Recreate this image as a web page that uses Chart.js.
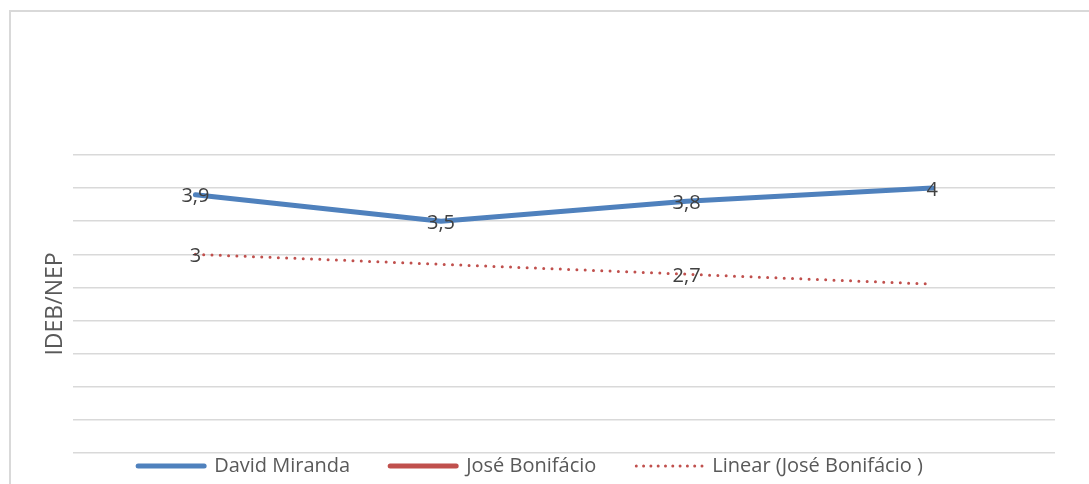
<!DOCTYPE html>
<html>
<head>
<meta charset="utf-8">
<script src="https://cdn.jsdelivr.net/npm/chart.js@4"></script>
<style>
    body { margin: 0; background: #fff; }
    #frame { position: absolute; left: 9px; top: 10px; width: 1200px; height: 600px; border: 2px solid #d9d9d9; box-sizing: border-box; }
    #wrap { position: absolute; left: 0; top: 0; width: 1089px; height: 484px; }
</style>
</head>
<body>
<div id="frame"></div>
<div id="wrap"><canvas id="ideb-chart"></canvas></div>
<script>
// Categories are not labelled in the picture
const categories = ['1', '2', '3', '4'];
const davidMiranda = [3.9, 3.5, 3.8, 4];
const joseBonifacio = [3, null, 2.7, null];
const linearJose = [3, 2.85, 2.7, 2.55];
const yTicks = { min: 0, max: 4.5, step: 0.5 };

const labelFont = '20px "Open Sans"';

// Draw the value labels centred on each point, Excel style (comma decimals)
const valueLabels = {
    id: 'valueLabels',
    afterDatasetsDraw(chart) {
        const ctx = chart.ctx;
        ctx.save();
        ctx.font = labelFont;
        ctx.fillStyle = '#404040';
        ctx.textAlign = 'center';
        ctx.textBaseline = 'middle';
        chart.data.datasets.forEach((ds, i) => {
            if (!ds.showValues) return;
            chart.getDatasetMeta(i).data.forEach((pt, j) => {
                const v = ds.data[j];
                if (v === null) return;
                ctx.fillText(String(v).replace('.', ','), pt.x, pt.y + 2);
            });
        });
        ctx.restore();
    }
};

// Legend is laid out tight (small padding) so the plot reaches down to it,
// then items get wider gaps and the block is moved left like Excel does
const legendTweak = {
    id: 'legendTweak',
    afterLayout(chart) {
        const lg = chart.legend;
        lg.options.labels.padding = 40;
        lg.top -= 37;
        lg.left -= 75;
        lg.right -= 75;
    }
};

const ctx = document.getElementById('ideb-chart').getContext('2d');
new Chart(ctx, {
    type: 'line',
    data: {
        labels: categories,
        datasets: [{
            label: 'David Miranda',
            data: davidMiranda,
            borderColor: '#4f81bd',
            backgroundColor: '#4f81bd',
            borderWidth: 5,
            borderCapStyle: 'round',
            borderJoinStyle: 'round',
            pointRadius: 0,
            tension: 0,
            showValues: true,
        }, {
            label: 'José Bonifácio',
            data: joseBonifacio,
            borderColor: '#c0504d',
            backgroundColor: '#c0504d',
            borderWidth: 5,
            pointRadius: 0,
            spanGaps: false,
            showValues: true,
        }, {
            label: 'Linear (José Bonifácio )',
            data: linearJose,
            borderColor: '#c0504d',
            borderWidth: 3,
            borderDash: [0, 8.3],
            borderCapStyle: 'round',
            pointRadius: 0,
            tension: 0,
        }]
    },
    options: {
        responsive: true,
        maintainAspectRatio: false,
        animation: false,
        layout: {
            padding: { top: 155, left: 39, right: 34, bottom: 0 }
        },
        scales: {
            x: {
                display: false,
                offset: true,
            },
            y: {
                min: yTicks.min,
                max: yTicks.max,
                ticks: { display: false, stepSize: yTicks.step },
                border: { display: false },
                grid: { color: '#d9d9d9', lineWidth: 1.5, drawTicks: false },
                title: {
                    display: true,
                    text: 'IDEB/NEP',
                    color: '#595959',
                    font: { family: 'Open Sans', size: 23 },
                    padding: { top: 3, bottom: 3 }
                }
            }
        },
        plugins: {
            legend: {
                position: 'bottom',
                labels: {
                    color: '#595959',
                    font: { family: 'Open Sans', size: 20 },
                    usePointStyle: true,
                    pointStyleWidth: 66,
                    padding: 1,
                    generateLabels(chart) {
                        return chart.data.datasets.map((ds, i) => {
                            const dotted = !!ds.borderDash;
                            return {
                                text: ds.label,
                                datasetIndex: i,
                                fontColor: '#595959',
                                pointStyle: 'line',
                                fillStyle: ds.borderColor,
                                strokeStyle: ds.borderColor,
                                lineWidth: dotted ? 3 : 5,
                                lineDash: dotted ? [0, 7.3] : [],
                                lineCap: 'round',
                            };
                        });
                    }
                }
            },
            tooltip: { enabled: false }
        }
    },
    plugins: [valueLabels, legendTweak]
});
</script>
</body>
</html>
